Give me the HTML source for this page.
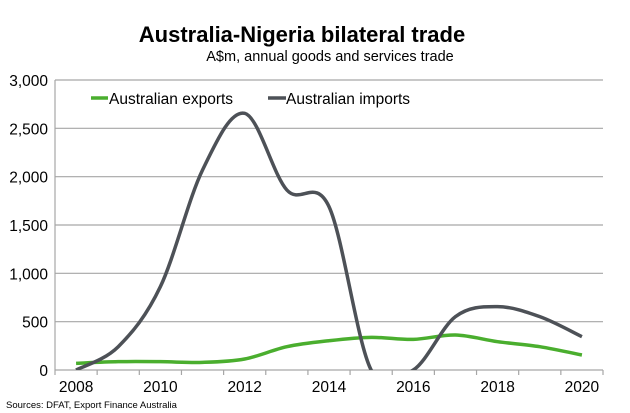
<!DOCTYPE html>
<html><head><meta charset="utf-8"><style>
body{margin:0;background:#fff;font-family:"Liberation Sans",Arial,sans-serif}
svg{display:block}
</style></head><body>
<svg width="630" height="413" viewBox="0 0 630 413">
<text x="302" y="42" text-anchor="middle" font-size="22" font-weight="bold" fill="#000">Australia-Nigeria bilateral trade</text>
<text x="330" y="61" text-anchor="middle" font-size="14.5" fill="#000">A$m, annual goods and services trade</text>
<g id="grid"></g>
<g id="axes"></g>
<defs><clipPath id="clip"><rect x="55" y="75" width="548" height="295"/></clipPath></defs>
<g id="series" clip-path="url(#clip)"></g>
<g>
<line x1="91" y1="98" x2="108" y2="98" stroke="#4aae2e" stroke-width="3.5"/>
<text x="109" y="104" font-size="15.5" fill="#000">Australian exports</text>
<line x1="268" y1="98" x2="286" y2="98" stroke="#4d5157" stroke-width="3.5"/>
<text x="286" y="104" font-size="15.5" fill="#000">Australian imports</text>
</g>
<text x="6" y="408" font-size="9.5" fill="#000">Sources: DFAT, Export Finance Australia</text>
</svg>
<script>
const years=[2008,2009,2010,2011,2012,2013,2014,2015,2016,2017,2018,2019,2020];
const exportsVals=[69,86,86,79,114,241,303,338,317,362,293,241,155];
const importsVals=[0,241,862,2069,2655,1862,1690,0,0,552,655,552,345];
const yTicks=[0,500,1000,1500,2000,2500,3000];
const xLabels=["2008","2010","2012","2014","2016","2018","2020"];
const NS="http://www.w3.org/2000/svg";
const L=55,R=603,T=80,B=370,YMAX=3000;
const step=(R-L)/years.length;
function xs(i){return L+step*(i+0.5);}
function ys(v){return B-(v/YMAX)*(B-T);}
function mk(tag,attrs,parent){const e=document.createElementNS(NS,tag);for(const k in attrs)e.setAttribute(k,attrs[k]);parent.appendChild(e);return e;}
const grid=document.getElementById('grid'),axes=document.getElementById('axes'),series=document.getElementById('series');
yTicks.forEach(v=>{
  if(v>0){const g=mk('line',{x1:L,x2:R,y1:ys(v),y2:ys(v),stroke:'#a6a6a6','stroke-width':1.2},grid);
  
  }
  const t=mk('text',{x:48,y:ys(v)+6,'text-anchor':'end','font-size':15.5,fill:'#000'},axes);
  t.textContent=v.toLocaleString('en-US');
  
  
});
const ya=mk('line',{x1:L,x2:L,y1:T,y2:B,stroke:'#a6a6a6','stroke-width':1.2},axes);


const xa=mk('line',{x1:L,x2:R,y1:B,y2:B,stroke:'#a6a6a6','stroke-width':1.2},axes);


for(let i=0;i<=years.length;i++){const tk=mk('line',{x1:L+step*i,x2:L+step*i,y1:B,y2:B+5,stroke:'#a6a6a6','stroke-width':1.2},axes);

}
years.forEach((y,i)=>{if(xLabels.includes(String(y))){const t=mk('text',{x:xs(i),y:392,'text-anchor':'middle','font-size':15.5,fill:'#000'},axes);
t.textContent=xLabels[xLabels.indexOf(String(y))];

}});
function smooth(vals){const p=vals.map((v,i)=>[xs(i),ys(v)]);let d='M'+p[0][0]+','+p[0][1];const k=1/6;
for(let i=0;i<p.length-1;i++){const p0=p[i-1]||p[i],p1=p[i],p2=p[i+1],p3=p[i+2]||p[i+1];
d+=' C'+(p1[0]+(p2[0]-p0[0])*k)+','+(p1[1]+(p2[1]-p0[1])*k)+' '+(p2[0]-(p3[0]-p1[0])*k)+','+(p2[1]-(p3[1]-p1[1])*k)+' '+p2[0]+','+p2[1];}
return d;}
const pe=mk('path',{d:smooth(exportsVals),fill:'none',stroke:'#4aae2e','stroke-width':3.5,'stroke-linejoin':'round'},series);


const pi=mk('path',{d:smooth(importsVals),fill:'none',stroke:'#4d5157','stroke-width':3.5,'stroke-linejoin':'round'},series);


</script>
</body></html>
